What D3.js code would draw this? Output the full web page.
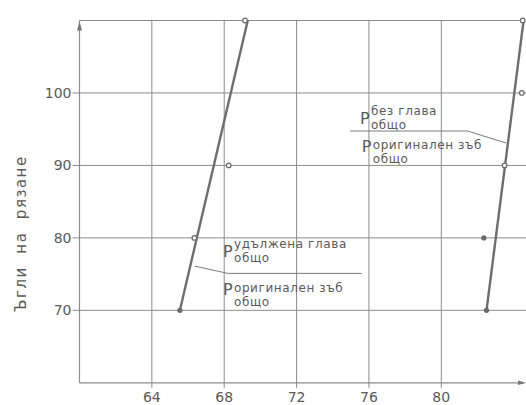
<!DOCTYPE html>
<html>
<head>
<meta charset="utf-8">
<script src="https://cdn.jsdelivr.net/npm/d3@7"></script>
<style>
  html, body { margin: 0; padding: 0; background: #fff; }
  svg { display: block; }
  text { font-family: "DejaVu Sans", sans-serif; fill: #5a5a5a; }
</style>
</head>
<body>
<svg id="chart" width="526" height="405"></svg>
<script>
// ---- data ----
const xTicks = [64, 68, 72, 76, 80];
const yTicks = [70, 80, 90, 100];
const yTop = 110;
const yLabel = "Ъгли  на  рязане";

// left curve: удължена глава
const leftLine = [[65.55, 70], [69.3, 110]];
const leftFilled = [[65.55, 70]];
const leftOpen = [[66.35, 80], [68.25, 90], [69.15, 110]];

// right curve: без глава
const rightLine = [[82.5, 70], [84.55, 110]];
const rightFilled = [[82.5, 70], [82.35, 80]];
const rightOpen = [[83.5, 90], [84.45, 100], [84.5, 110]];

// annotations (anchor in data coords)
const annotations = [
  { x: 75.5, y: 95.7, sup: "без глава", sub: "общо",
    x2: 75.6, y2: 91.8, sup2: "оригинален зъб", sub2: "общо",
    leader: [[74.95, 94.75], [81.45, 94.75], [83.57, 93.1]] },
  { x: 67.93, y: 77.3, sup: "удължена глава", sub: "общо",
    x2: 67.93, y2: 72.1, sup2: "оригинален зъб", sub2: "общо",
    leader: [[66.38, 76.1], [68.2, 75.1], [75.6, 75.1]] }
];

// ---- layout ----
const svg = d3.select("#chart");
const x = d3.scaleLinear().domain([60, 84.6]).range([79.5, 524.5]);
const y = d3.scaleLinear().domain([60, 110]).range([382.8, 20.5]);
const gridColor = "#8c8c8c";
const lineColor = "#6e6e6e";

// horizontal gridlines
svg.append("g").selectAll("line").data(yTicks).join("line")
  .attr("x1", x(60) - 7).attr("x2", 526)
  .attr("y1", d => y(d)).attr("y2", d => y(d))
  .attr("stroke", gridColor).attr("stroke-width", 1);
// top line (110)
svg.append("line")
  .attr("x1", x(60)).attr("x2", x(84.5))
  .attr("y1", y(yTop)).attr("y2", y(yTop))
  .attr("stroke", gridColor).attr("stroke-width", 1.2);

// vertical gridlines
svg.append("g").selectAll("line").data(xTicks).join("line")
  .attr("x1", d => x(d)).attr("x2", d => x(d))
  .attr("y1", y(yTop)).attr("y2", y(60) + 5)
  .attr("stroke", gridColor).attr("stroke-width", 1);

// axes
svg.append("line").attr("x1", x(60)).attr("x2", x(60))
  .attr("y1", y(60)).attr("y2", y(yTop))
  .attr("stroke", gridColor).attr("stroke-width", 1.2);
svg.append("line").attr("x1", x(60)).attr("x2", 524)
  .attr("y1", y(60)).attr("y2", y(60))
  .attr("stroke", gridColor).attr("stroke-width", 1.2);
// arrows
svg.append("path")
  .attr("d", `M${x(60)},${y(yTop) + 1} l-2.5,9 l5,0 z`)
  .attr("fill", "#777");
svg.append("path")
  .attr("d", `M526,${y(60)} l-8,-2.2 l0,4.4 z`)
  .attr("fill", "#777");

// tick labels
svg.append("g").selectAll("text").data(xTicks).join("text")
  .attr("x", d => x(d)).attr("y", 402)
  .attr("text-anchor", "middle").attr("font-size", 14)
  .text(d => d);
svg.append("g").selectAll("text").data(yTicks).join("text")
  .attr("x", x(60) - 8).attr("y", d => y(d) + 5)
  .attr("text-anchor", "end").attr("font-size", 14)
  .text(d => d);

// y label
svg.append("text")
  .attr("transform", `translate(26,${(y(70) + y(100)) / 2 + 32}) rotate(-90)`)
  .attr("text-anchor", "middle").attr("font-size", 15)
  .attr("letter-spacing", 1.5)
  .attr("xml:space", "preserve")
  .style("white-space", "pre")
  .text(yLabel);

// data lines
const lineGen = d3.line().x(d => x(d[0])).y(d => y(d[1]));
[leftLine, rightLine].forEach(l => {
  svg.append("path").attr("d", lineGen(l))
    .attr("fill", "none").attr("stroke", lineColor).attr("stroke-width", 2.4);
});

// markers
svg.append("g").selectAll("circle").data(leftFilled.concat(rightFilled)).join("circle")
  .attr("cx", d => x(d[0])).attr("cy", d => y(d[1])).attr("r", 2.6)
  .attr("fill", "#6a6a6a");
svg.append("g").selectAll("circle").data(leftOpen.concat(rightOpen)).join("circle")
  .attr("cx", d => x(d[0])).attr("cy", d => y(d[1])).attr("r", 2.3)
  .attr("fill", "#fff").attr("stroke", "#6a6a6a").attr("stroke-width", 1.2);

// annotations
annotations.forEach(a => {
  const g = svg.append("g");
  const fs = 12, ls = 0.6;
  const px = x(a.x), py = y(a.y);
  g.append("text").attr("x", px).attr("y", py).attr("font-size", 16).text("P");
  g.append("text").attr("x", px + 11).attr("y", py - 9).attr("font-size", fs)
    .attr("letter-spacing", ls).text(a.sup);
  g.append("text").attr("x", px + 11).attr("y", py + 5).attr("font-size", fs)
    .attr("letter-spacing", ls).text(a.sub);
  const qx = x(a.x2), qy = y(a.y2);
  g.append("text").attr("x", qx).attr("y", qy).attr("font-size", 16).text("P");
  g.append("text").attr("x", qx + 11).attr("y", qy - 3).attr("font-size", fs)
    .attr("letter-spacing", ls).text(a.sup2);
  g.append("text").attr("x", qx + 11).attr("y", qy + 11).attr("font-size", fs)
    .attr("letter-spacing", ls).text(a.sub2);
  g.append("path").attr("d", lineGen(a.leader))
    .attr("fill", "none").attr("stroke", "#7a7a7a").attr("stroke-width", 1);
});
</script>
</body>
</html>
